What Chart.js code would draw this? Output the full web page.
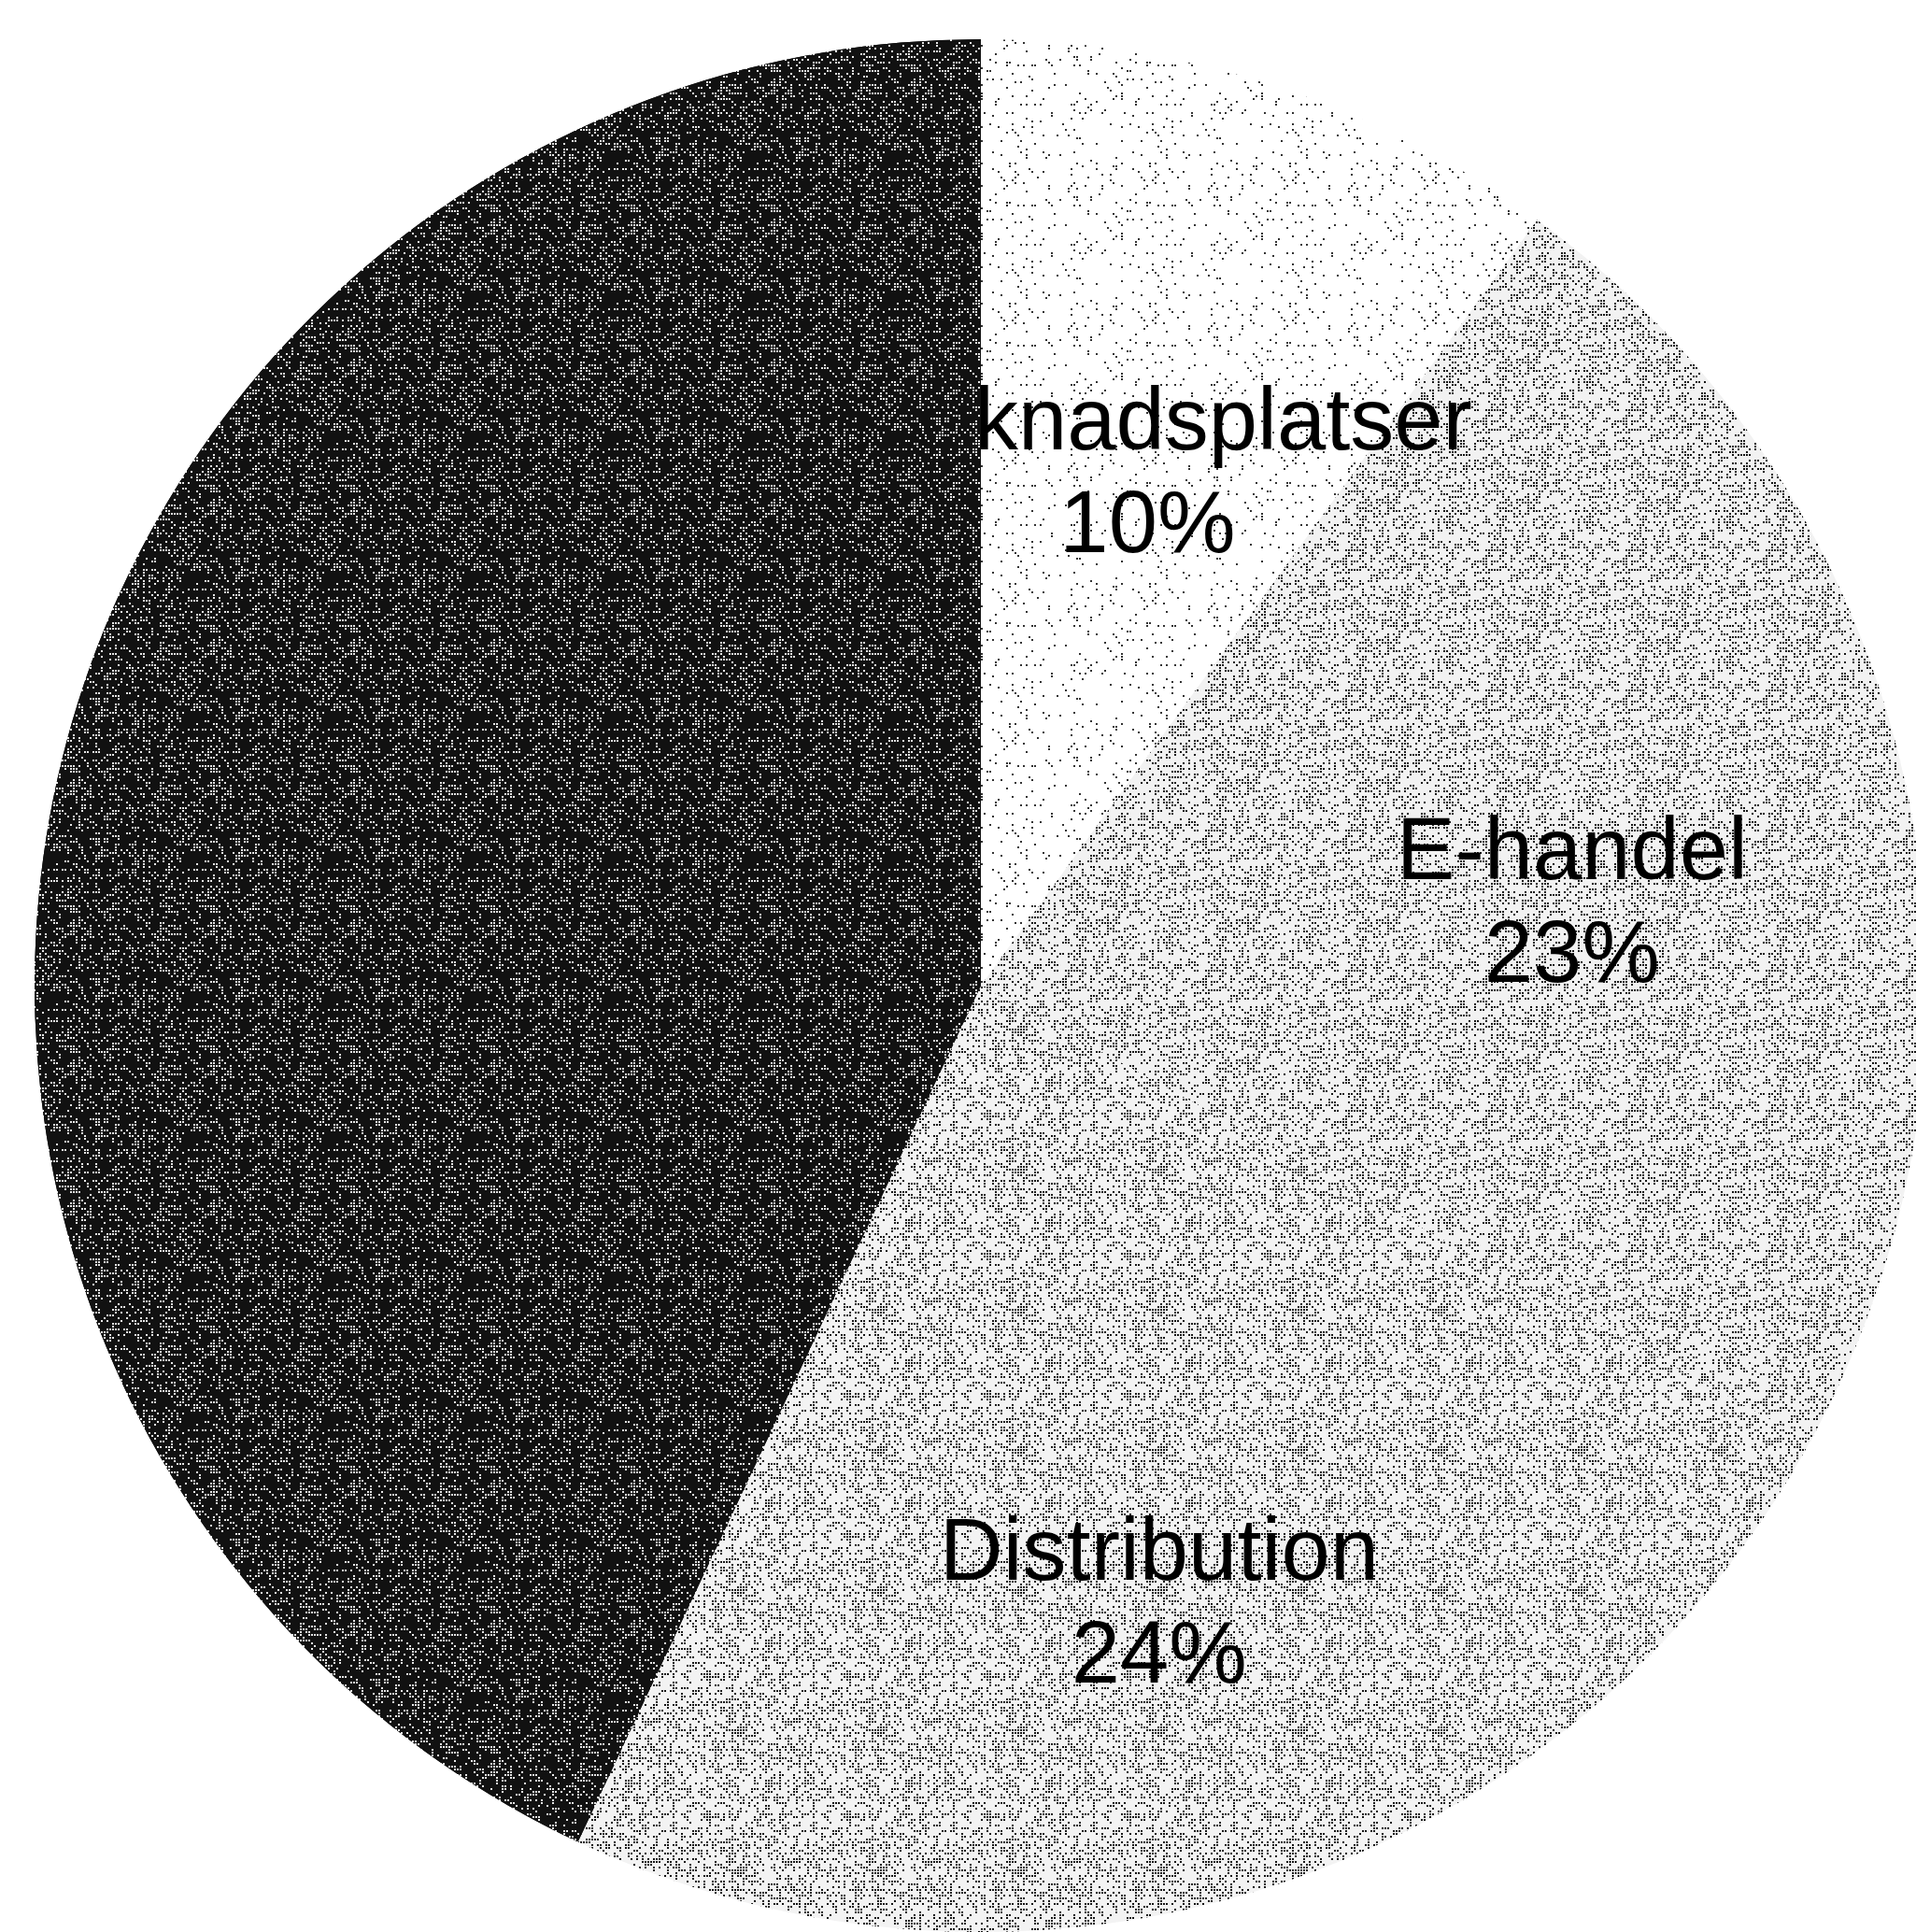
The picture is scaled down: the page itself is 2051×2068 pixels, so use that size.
<!DOCTYPE html>
<html>
<head>
<meta charset="utf-8">
<script src="https://cdn.jsdelivr.net/npm/chart.js@4/dist/chart.umd.min.js"></script>
<style>
  html, body { margin: 0; padding: 0; background: #fff; overflow: hidden; }
  #wrap { width: 2100px; height: 2068px; }
</style>
</head>
<body>
<div id="wrap"><canvas id="pie" width="2100" height="2068"></canvas></div>
<script>
// data (percent shares, clockwise from 12 o'clock)
const labels = ["Marknadsplatser", "E-handel", "Distribution", "Butik"];
const shares = [10, 23, 24, 43];
const showLabel = [true, true, true, false];

// label placement: fraction of radius along mid-angle, plus pixel nudge
const labelRadius = [0.57, 0.63, 0.68, 0.6];
const labelNudge = [[0, 4], [10, 54], [-22, 10], [0, 0]];

// scanned/dithered look: base colour with a dot screen
function hash(i, j, s) {
  let h = (i * 374761393 + j * 668265263 + s * 2147483647) | 0;
  h = (h ^ (h >>> 13)) * 1274126177 | 0;
  return ((h ^ (h >>> 16)) >>> 0) / 4294967295;
}
function screen(base, dot, density, seed) {
  const size = 150, cell = 3;
  const c = document.createElement("canvas");
  c.width = size; c.height = size;
  const x = c.getContext("2d");
  x.fillStyle = base; x.fillRect(0, 0, size, size);
  x.fillStyle = dot;
  for (let i = 0; i < size / cell; i++)
    for (let j = 0; j < size / cell; j++)
      if (hash(i, j, seed) < density) x.fillRect(i * cell, j * cell, 2, 2);
  return x.createPattern(c, "repeat");
}

const fills = [
  screen("#ffffff", "#333333", 0.07, 1),
  screen("#f2f2f2", "#151515", 0.36, 2),
  screen("#f3f3f3", "#151515", 0.35, 3),
  screen("#111111", "#e8e8e8", 0.3, 4),
];

// draws the slice labels; the last slice is painted again on top, so the
// first label's left end is hidden under it like in the source
const sliceLabels = {
  id: "sliceLabels",
  afterDatasetsDraw(chart) {
    const ctx = chart.ctx;
    const meta = chart.getDatasetMeta(0);
    ctx.save();
    ctx.font = "94px 'Liberation Sans', Arial, sans-serif";
    ctx.fillStyle = "#000";
    ctx.textAlign = "center";
    ctx.textBaseline = "middle";
    meta.data.forEach((arc, i) => {
      if (!showLabel[i]) return;
      const p = arc.getProps(["x", "y", "startAngle", "endAngle", "outerRadius"], true);
      const a = (p.startAngle + p.endAngle) / 2;
      const r = p.outerRadius * labelRadius[i];
      const cx = p.x + Math.cos(a) * r + labelNudge[i][0];
      const cy = p.y + Math.sin(a) * r + labelNudge[i][1];
      ctx.fillText(labels[i], cx, cy - 55);
      ctx.fillText(shares[i] + "%", cx, cy + 55);
    });
    ctx.restore();
    meta.data[meta.data.length - 1].draw(ctx);
  },
};

new Chart(document.getElementById("pie"), {
  type: "pie",
  data: {
    labels: labels,
    datasets: [{ data: shares, backgroundColor: fills, borderWidth: 0 }],
  },
  options: {
    responsive: false,
    devicePixelRatio: 1,
    animation: false,
    layout: { padding: { left: 37, right: 37, top: 42, bottom: 0 } },
    plugins: { legend: { display: false }, tooltip: { enabled: false } },
  },
  plugins: [sliceLabels],
});
</script>
</body>
</html>
